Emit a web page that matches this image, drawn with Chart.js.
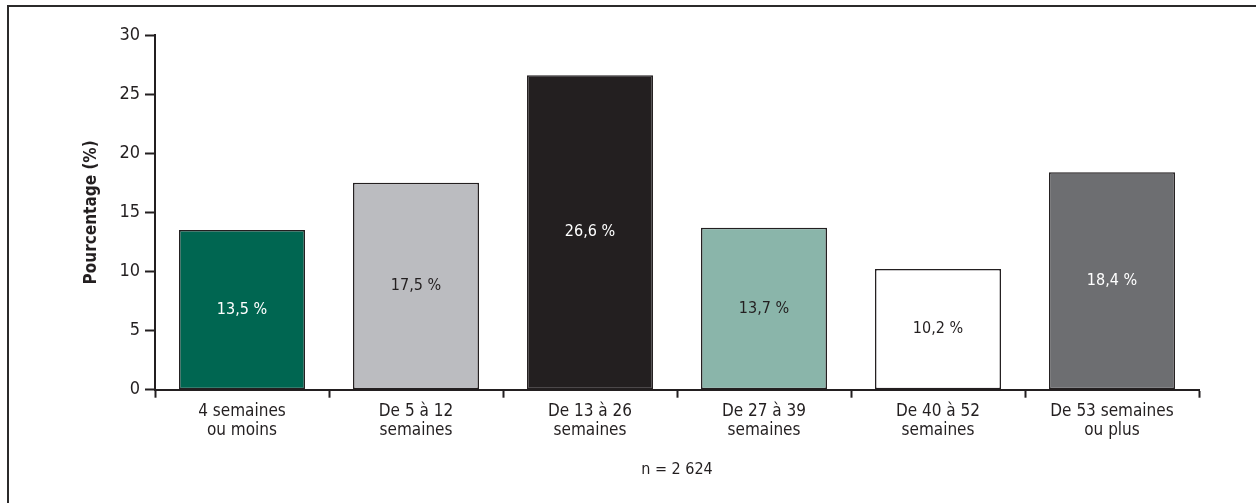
<!DOCTYPE html>
<html>
<head>
<meta charset="utf-8">
<script src="https://cdn.jsdelivr.net/npm/chart.js@4.4.0/dist/chart.umd.min.js"></script>
<style>
  html, body { margin: 0; padding: 0; background: #fff; overflow: hidden; }
  .frame { position: absolute; left: 7px; top: 5px; width: 1400px; height: 700px;
           border: 2px solid #2b2a2a; }
  .wrap { position: absolute; left: 0; top: 0; width: 1256px; height: 503px; }
</style>
</head>
<body>
<div class="frame"></div>
<div class="wrap"><canvas id="c" width="1256" height="503"></canvas></div>
<script>
// Durée de l'absence — répartition en pourcentage, n = 2 624
const categories = [
  ["4 semaines", "ou moins"],
  ["De 5 à 12", "semaines"],
  ["De 13 à 26", "semaines"],
  ["De 27 à 39", "semaines"],
  ["De 40 à 52", "semaines"],
  ["De 53 semaines", "ou plus"],
];
const values = [13.5, 17.5, 26.6, 13.7, 10.2, 18.4];
const valueLabels = ["13,5 %", "17,5 %", "26,6 %", "13,7 %", "10,2 %", "18,4 %"];
const yTicks = [0, 5, 10, 15, 20, 25, 30];

const barColors = ["#006651", "#bbbcc0", "#231f20", "#8ab5aa", "#ffffff", "#6d6e71"];
const labelColors = ["#ffffff", "#231f20", "#ffffff", "#231f20", "#231f20", "#ffffff"];

const INK = "#231f20";
const FONT = "'Liberation Sans Narrow', 'DejaVu Sans Condensed', 'Roboto Condensed', sans-serif";

const barLabels = {
  id: "barLabels",
  afterDatasetsDraw(chart) {
    const { ctx } = chart;
    const meta = chart.getDatasetMeta(0);
    ctx.save();
    ctx.font = `16px ${FONT}`;
    ctx.textAlign = "center";
    ctx.textBaseline = "middle";
    meta.data.forEach((bar, i) => {
      ctx.fillStyle = labelColors[i];
      ctx.fillText(valueLabels[i], bar.x, (bar.y + bar.base) / 2);
    });
    ctx.restore();
  },
};

new Chart(document.getElementById("c"), {
  type: "bar",
  data: {
    labels: categories,
    datasets: [{
      data: values,
      backgroundColor: barColors,
      borderColor: INK,
      borderWidth: 1.5,
      borderSkipped: false,
      categoryPercentage: 1,
      barPercentage: 0.724,
    }],
  },
  options: {
    responsive: false,
    animation: false,
    devicePixelRatio: 1,
    layout: { padding: { left: 81, right: 57, top: 35, bottom: 24 } },
    plugins: { legend: { display: false }, tooltip: { enabled: false } },
    scales: {
      x: {
        offset: true,
        grid: {
          offset: true,
          drawOnChartArea: false,
          tickLength: 8,
          tickWidth: 2,
          tickColor: INK,
        },
        border: { display: true, color: INK, width: 2 },
        ticks: {
          color: INK,
          font: { family: FONT, size: 17, lineHeight: 1.15 },
          padding: 4,
          maxRotation: 0,
          autoSkip: false,
        },
        title: {
          display: true,
          text: "n = 2 624",
          color: INK,
          font: { family: FONT, size: 16 },
          padding: { top: 15, bottom: 0 },
        },
      },
      y: {
        min: 0,
        max: 30,
        afterBuildTicks(axis) { axis.ticks = yTicks.map((v) => ({ value: v })); },
        grid: {
          drawOnChartArea: false,
          tickLength: 10,
          tickWidth: 2,
          tickColor: INK,
        },
        border: { display: true, color: INK, width: 2 },
        ticks: {
          color: INK,
          font: { family: FONT, size: 18 },
          padding: 5,
          autoSkip: false,
        },
        title: {
          display: true,
          text: "Pourcentage (%)",
          color: INK,
          font: { family: FONT, size: 17, weight: "bold" },
          padding: { top: 0, bottom: 13 },
        },
      },
    },
  },
  plugins: [barLabels],
});
</script>
</body>
</html>
